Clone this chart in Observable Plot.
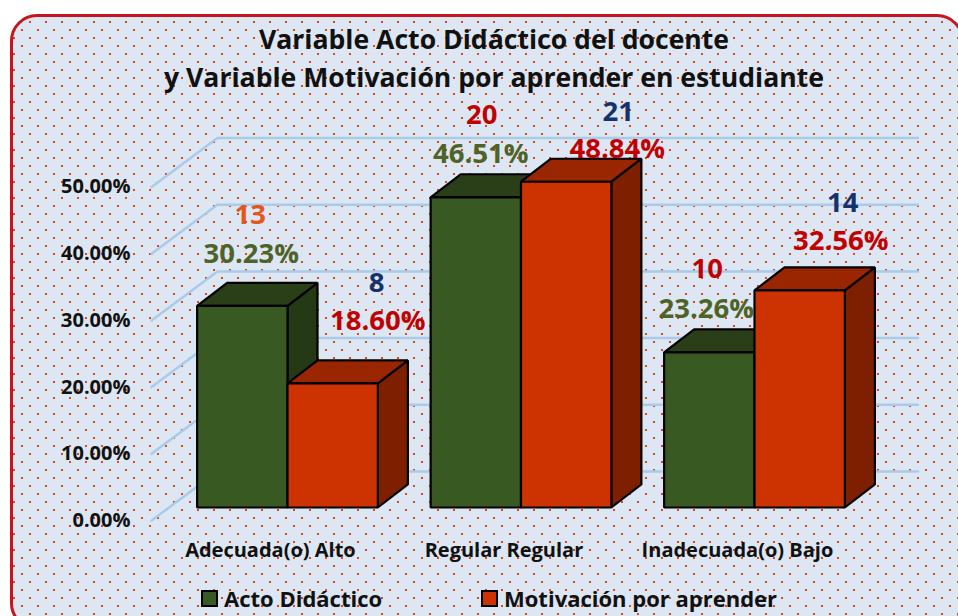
<!DOCTYPE html>
<html><head><meta charset="utf-8">
<script src="https://cdn.jsdelivr.net/npm/d3@7"></script>
<script src="https://cdn.jsdelivr.net/npm/@observablehq/plot@0.6"></script>
<style>
html,body{margin:0;padding:0;background:#fff;overflow:hidden}
#stage{position:relative;width:958px;height:616px;overflow:hidden;font-family:"Open Sans",sans-serif}
#panel{position:absolute;left:10px;top:14px;width:948px;height:610px;border:3px solid #c4161c;border-radius:27px;
 background-color:#dde7f3;
 background-image:radial-gradient(circle at center,#d9481a 0,#d9481a .7px,rgba(217,72,26,0) 1.5px),radial-gradient(circle at center,#d9481a 0,#d9481a .7px,rgba(217,72,26,0) 1.5px);
 background-size:16px 16px;background-position:-7px -3px,1px 5px}
#chart{position:absolute;left:0;top:0}
#chart svg{background:transparent;display:block}
#title{position:absolute;left:0;width:988px;top:20px;text-align:center;font-weight:700;font-size:26.6px;line-height:38px;color:#111}
#legend{position:absolute;top:584px;left:201px;font-weight:700;font-size:22px;color:#111;line-height:28px;white-space:nowrap}
#legend i{position:absolute;top:6px;width:13px;height:13px;border:2px solid #000}
#legend span{position:absolute;top:0}
</style></head><body>
<div id="stage"><div id="panel"></div><div id="chart"></div>
<div id="title">Variable Acto Didáctico del docente<br>y Variable Motivación por aprender en estudiante</div>
<div id="legend"><i style="left:0;background:#385a22"></i><span style="left:23px">Acto Didáctico</span><i style="left:280px;background:#cc3300"></i><span style="left:303px">Motivación por aprender</span></div>
</div>
<script>
// Data
const categories = ["Adecuada(o) Alto", "Regular Regular", "Inadecuada(o) Bajo"];
const actoPct = [30.23, 46.51, 23.26];
const motivPct = [18.60, 48.84, 32.56];
const actoCount = [13, 20, 10];
const motivCount = [8, 21, 14];
const yTicks = [0, 10, 20, 30, 40, 50];

// Colours and 3-D layout
const actoFaces = {front: "#385a22", top: "#2a3f17", side: "#253915", label: "#4f6228"};
const motivFaces = {front: "#cc3300", top: "#992600", side: "#7e2000", label: "#c00000"};
const actoCountColors = ["#e2571d", "#c00000", "#c00000"];
const motivCountColor = "#17326b";
const barW = 0.387, depthX = 0.1285, depthY = 3.45;
const wallFrontX = -0.582, wallBackX = -0.30, wallRightX = 2.70, wallFrontY = -1.95, wallBackY = 5.4;
const pxPerX = 233.5, pxPerY = 6.67;

const faces = [];
function addBar(i, series, x0, v, pal) {
  const x1 = x0 + barW, id = `${i}-${series}-`;
  const poly = (name, fill, pts) => pts.forEach(([x, y]) => faces.push({id: id + name, fill, x, y}));
  poly("side", pal.side, [[x1, 0], [x1 + depthX, depthY], [x1 + depthX, v + depthY], [x1, v]]);
  poly("top", pal.top, [[x0, v], [x0 + depthX, v + depthY], [x1 + depthX, v + depthY], [x1, v]]);
  poly("front", pal.front, [[x0, 0], [x0, v], [x1, v], [x1, 0]]);
}
categories.forEach((c, i) => {
  addBar(i, "a", i - barW, actoPct[i], actoFaces);
  addBar(i, "m", i, motivPct[i], motivFaces);
});

const wall = yTicks.flatMap(t => [
  {t, x: wallFrontX, y: t + wallFrontY},
  {t, x: wallBackX, y: t + wallBackY},
  {t, x: wallRightX, y: t + wallBackY}
]);

// label nudges, in pixels, away from the bar each label belongs to
const nudgeActoPct = [[9, -52], [5, -43], [-3, -43]];
const nudgeMotivPct = [[45, -62], [51, -33], [41, -49]];
const nudgeActoCount = [[8, -91], [6, -82], [-2, -83]];
const nudgeMotivCount = [[44, -100], [52, -70], [43, -87]];
const at = (x, v, [dx, dy]) => ({x: x + dx / pxPerX, y: v - dy / pxPerY});

const valueLabels = categories.flatMap((c, i) => [
  {...at(i - barW / 2, actoPct[i], nudgeActoPct[i]), text: actoPct[i].toFixed(2) + "%", fill: actoFaces.label},
  {...at(i + barW / 2, motivPct[i], nudgeMotivPct[i]), text: motivPct[i].toFixed(2) + "%", fill: motivFaces.label},
  {...at(i - barW / 2, actoPct[i], nudgeActoCount[i]), text: String(actoCount[i]), fill: actoCountColors[i]},
  {...at(i + barW / 2, motivPct[i], nudgeMotivCount[i]), text: String(motivCount[i]), fill: motivCountColor}
]);

const chart = Plot.plot({
  width: 958, height: 616,
  margin: 0,
  style: {background: "transparent", fontFamily: "'Open Sans', sans-serif", overflow: "visible"},
  x: {type: "linear", domain: [-287 / pxPerX, 671 / pxPerX], range: [0, 958], axis: null},
  y: {type: "linear", domain: [-109 / pxPerY, 507 / pxPerY], range: [616, 0], axis: null},
  color: {type: "identity"},
  marks: [
    Plot.line(wall, {x: "x", y: "y", z: "t", stroke: "#a9cbe9", strokeWidth: 2.5, curve: "linear"}),
    Plot.line(faces, {x: "x", y: "y", z: "id", fill: "fill", stroke: "#000", strokeWidth: 2.2, strokeLinejoin: "miter", curve: "linear-closed"}),
    Plot.axisY(yTicks, {anchor: "left", y: d => d + wallFrontY, text: d => d.toFixed(2) + "%", tickSize: 0, tickPadding: 0, dx: 130, fontSize: 20, fontWeight: 700, fill: "#111", label: null}),
    Plot.text(categories, {x: (d, i) => i - 0.073, y: -6.5, text: d => d, fontSize: 20, fontWeight: 700, fill: "#111"}),
    Plot.text(valueLabels, {x: "x", y: "y", text: "text", fill: "fill", fontSize: 27.5, fontWeight: 700})
  ]
});
document.getElementById("chart").appendChild(chart);
</script>
</body></html>
